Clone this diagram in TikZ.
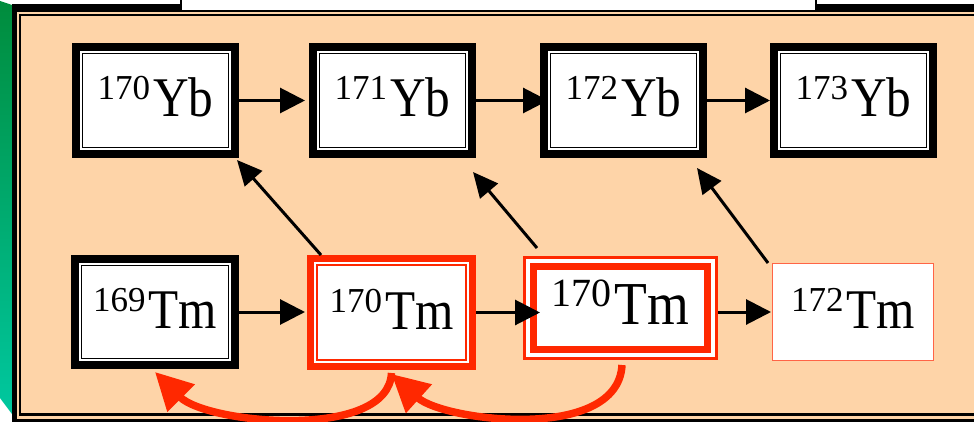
\documentclass[tikz,border=0pt]{standalone}
\usepackage{fontspec}
\setmainfont{Liberation Serif}
\usepackage{graphicx}
\usetikzlibrary{arrows.meta}
\definecolor{peach}{RGB}{254,212,168}
\definecolor{isored}{RGB}{255,40,0}
\definecolor{salmon}{RGB}{255,100,70}
\definecolor{gtop}{RGB}{0,140,60}
\definecolor{gbot}{RGB}{0,200,160}
\newcommand{\ring}[3]{\draw[fill=none, draw=#1, line width=#2pt] ([shift={(#3pt,-#3pt)}]path picture bounding box.north west) rectangle ([shift={(-#3pt,#3pt)}]path picture bounding box.south east);}
\newcommand{\nuc}[2]{\raisebox{17pt}{\fontsize{35}{35}\selectfont #1}\hspace{3pt}\scalebox{0.88}[1]{\fontsize{56}{56}\selectfont #2}}
\newcommand{\nucbig}[2]{\raisebox{18.5pt}{\fontsize{40}{40}\selectfont #1}\hspace{3pt}\scalebox{0.88}[1]{\fontsize{61}{61}\selectfont #2}}
\tikzset{
  nbase/.style={rectangle, inner sep=0pt, outer sep=0pt, fill=white, text height=36pt, text depth=3pt},
  blkbox/.style={nbase, path picture={\ring{black}{8}{4}\ring{black}{1.5}{10.5}}},
  ybbox/.style={blkbox, minimum width=167pt, minimum height=115pt},
  redA/.style={nbase, path picture={\ring{isored}{7}{3.5}\ring{isored}{1.6}{10.2}}},
  redB/.style={nbase, path picture={\ring{isored}{2.6}{1.3}\ring{isored}{7}{10.3}}},
  redC/.style={nbase, path picture={\ring{salmon}{1.3}{0.65}}},
  arr/.style={line width=3pt, -{Triangle[length=25pt,width=25pt]}},
  darr/.style={line width=3pt, -{Triangle[length=25pt,width=23pt]}},
  rarr/.style={draw=isored, line width=7.5pt, -{Triangle[length=37pt,width=37pt]}},
}
\begin{document}
\begin{tikzpicture}[x=1pt, y=-1pt]
\useasboundingbox (0,0) rectangle (974,422);
\clip (0,0) rectangle (974,422);
% side strip and frame
\shade[top color=gtop, bottom color=gbot] (0,1) -- (12,5) -- (12,414) -- (0,398) -- cycle;
\fill[black] (11.5,4) rectangle (990,440);
\fill[peach] (17.3,12) rectangle (990,418.7);
\draw[line width=2.2pt] (20.2,14.8) rectangle (995,414.5);
\filldraw[fill=white, line width=2pt] (180.5,-5) rectangle (816,11);
% nodes
\node[ybbox] (yb170) at (155.5,100.5) {\nuc{170}{Yb}\hspace{9pt}};
\node[ybbox] (yb171) at (392.5,100.5) {\nuc{171}{Yb}\hspace{9pt}};
\node[ybbox] (yb172) at (623.5,100.5) {\nuc{172}{Yb}\hspace{10pt}};
\node[ybbox] (yb173) at (853.5,100.5) {\nuc{173}{Yb}\hspace{9pt}};
\node[blkbox, minimum width=168pt, minimum height=114pt] (tm169) at (155,312) {\nuc{169}{Tm}\hspace{3pt}};
\node[redA, minimum width=169pt, minimum height=115pt] (tmA) at (391.5,312.5) {\nuc{170}{Tm}\hspace{1pt}};
\node[redB, minimum width=195pt, minimum height=104pt] (tmB) at (620.5,308) {\nucbig{170}{Tm}};
\node[redC, minimum width=162pt, minimum height=98pt] (tm172) at (853,312) {\nuc{172}{Tm}\hspace{3pt}};
% horizontal arrows
\draw[arr] (yb170.east) -- ([xshift=-4pt]yb171.west);
\draw[arr] (yb171.east) -- ([xshift=8pt]yb172.west);
\draw[arr] (yb172.east) -- (yb173.west);
\draw[arr] (tm169.east) -- ([xshift=-2pt]tm169.east -| tmA.west);
\draw[arr] (tmA.east) -- ([xshift=17pt]tmA.east -| tmB.west);
\draw[arr] (tmB.east |- tm172.west) -- ([xshift=-1pt]tm172.west);
% diagonal arrows
\draw[darr] ([xshift=14pt]tmA.north west) -- ([shift={(-2pt,-2pt)}]yb170.south east);
\draw[darr] ([shift={(14pt,8pt)}]tmB.north west) -- ([shift={(-3pt,-14pt)}]yb171.south east);
\draw[darr] ([xshift=-4pt]tm172.north west) -- ([shift={(-10pt,-10pt)}]yb172.south east);
% red curved arrows
\draw[rarr] ([yshift=-3pt]tmA.south) .. controls +(-3,68) and +(52,52) .. ([yshift=-3pt]tm169.south);
\draw[rarr] ([shift={(1.5pt,-5pt)}]tmB.south) .. controls +(-4,78) and +(52,47) .. ([yshift=-4pt]tmA.south);
\end{tikzpicture}
\end{document}
